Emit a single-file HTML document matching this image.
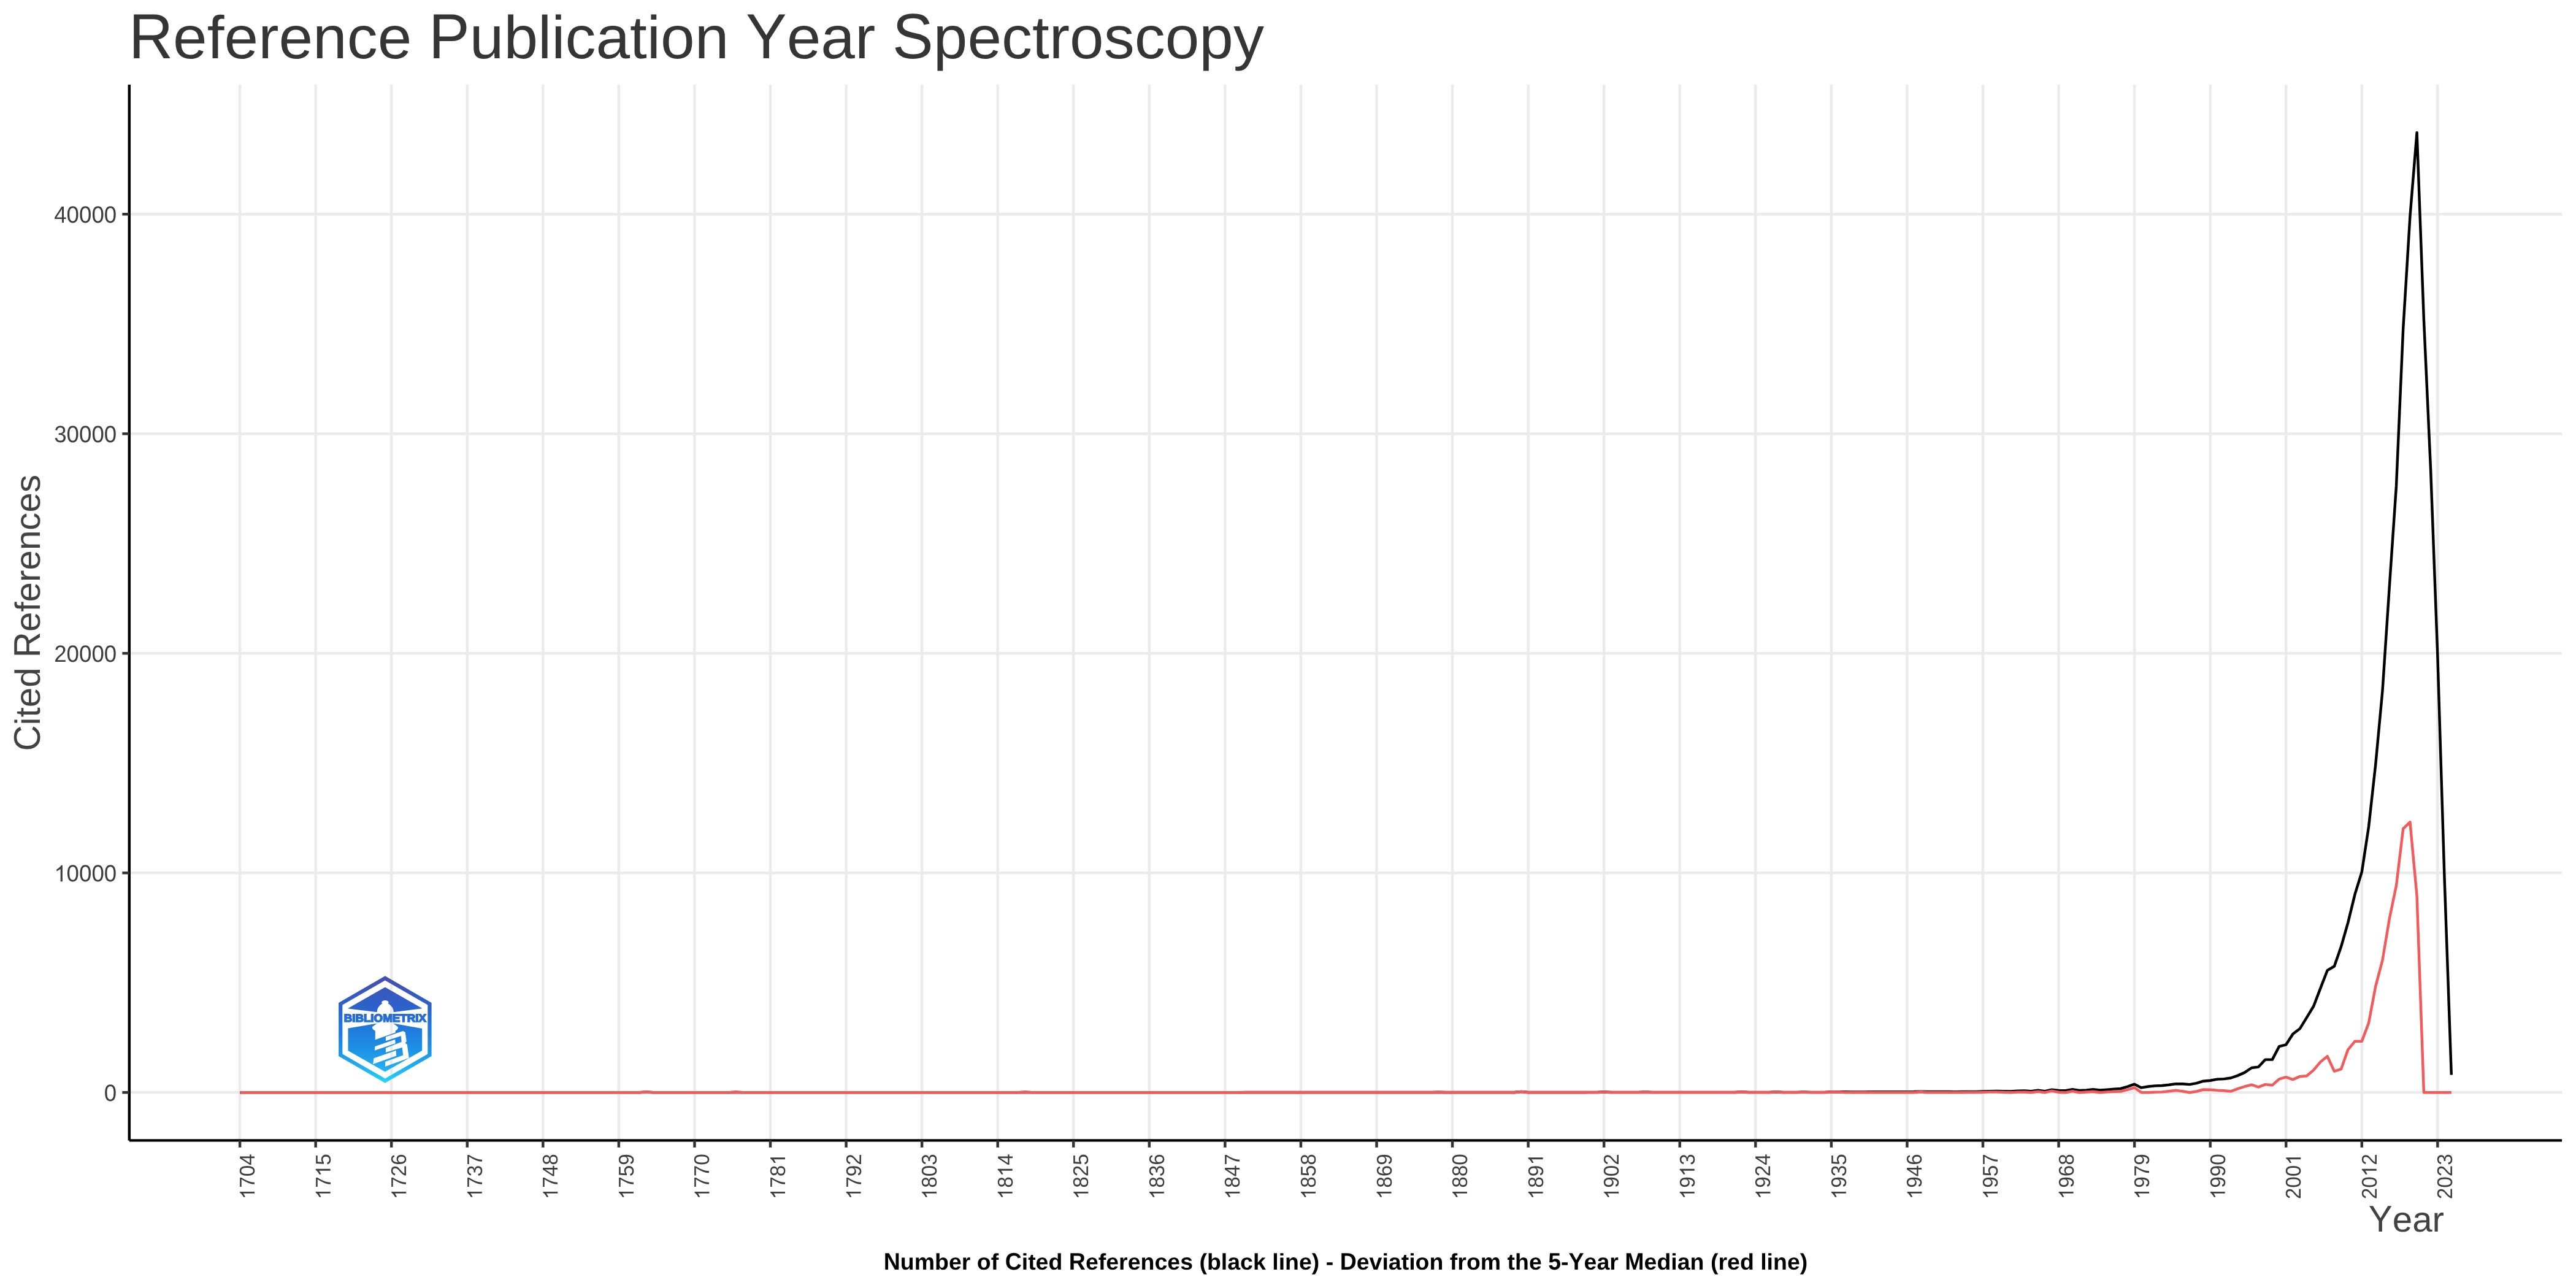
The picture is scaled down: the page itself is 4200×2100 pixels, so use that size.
<!DOCTYPE html>
<html lang="en"><head><meta charset="utf-8"><title>Reference Publication Year Spectroscopy</title>
<style>html,body{margin:0;padding:0;background:#fff;}body{width:4200px;height:2100px;overflow:hidden;}svg{display:block;will-change:transform;}text{font-family:"Liberation Sans",sans-serif;font-kerning:none;font-variant-ligatures:none;text-rendering:geometricPrecision;}</style></head><body>
<svg width="4200" height="2100" viewBox="0 0 4200 2100">
<rect x="0" y="0" width="4200" height="2100" fill="#ffffff"/>
<g stroke="#ebebeb" stroke-width="4.44" fill="none">
<line x1="210.8" y1="1781.15" x2="4177.1" y2="1781.15"/>
<line x1="210.8" y1="1423.17" x2="4177.1" y2="1423.17"/>
<line x1="210.8" y1="1065.19" x2="4177.1" y2="1065.19"/>
<line x1="210.8" y1="707.21" x2="4177.1" y2="707.21"/>
<line x1="210.8" y1="349.23" x2="4177.1" y2="349.23"/>
<line x1="391.09" y1="138.0" x2="391.09" y2="1859.4"/>
<line x1="514.65" y1="138.0" x2="514.65" y2="1859.4"/>
<line x1="638.21" y1="138.0" x2="638.21" y2="1859.4"/>
<line x1="761.77" y1="138.0" x2="761.77" y2="1859.4"/>
<line x1="885.33" y1="138.0" x2="885.33" y2="1859.4"/>
<line x1="1008.89" y1="138.0" x2="1008.89" y2="1859.4"/>
<line x1="1132.45" y1="138.0" x2="1132.45" y2="1859.4"/>
<line x1="1256.01" y1="138.0" x2="1256.01" y2="1859.4"/>
<line x1="1379.57" y1="138.0" x2="1379.57" y2="1859.4"/>
<line x1="1503.13" y1="138.0" x2="1503.13" y2="1859.4"/>
<line x1="1626.69" y1="138.0" x2="1626.69" y2="1859.4"/>
<line x1="1750.25" y1="138.0" x2="1750.25" y2="1859.4"/>
<line x1="1873.82" y1="138.0" x2="1873.82" y2="1859.4"/>
<line x1="1997.38" y1="138.0" x2="1997.38" y2="1859.4"/>
<line x1="2120.94" y1="138.0" x2="2120.94" y2="1859.4"/>
<line x1="2244.50" y1="138.0" x2="2244.50" y2="1859.4"/>
<line x1="2368.06" y1="138.0" x2="2368.06" y2="1859.4"/>
<line x1="2491.62" y1="138.0" x2="2491.62" y2="1859.4"/>
<line x1="2615.18" y1="138.0" x2="2615.18" y2="1859.4"/>
<line x1="2738.74" y1="138.0" x2="2738.74" y2="1859.4"/>
<line x1="2862.30" y1="138.0" x2="2862.30" y2="1859.4"/>
<line x1="2985.86" y1="138.0" x2="2985.86" y2="1859.4"/>
<line x1="3109.42" y1="138.0" x2="3109.42" y2="1859.4"/>
<line x1="3232.98" y1="138.0" x2="3232.98" y2="1859.4"/>
<line x1="3356.54" y1="138.0" x2="3356.54" y2="1859.4"/>
<line x1="3480.11" y1="138.0" x2="3480.11" y2="1859.4"/>
<line x1="3603.67" y1="138.0" x2="3603.67" y2="1859.4"/>
<line x1="3727.23" y1="138.0" x2="3727.23" y2="1859.4"/>
<line x1="3850.79" y1="138.0" x2="3850.79" y2="1859.4"/>
<line x1="3974.35" y1="138.0" x2="3974.35" y2="1859.4"/>
</g>
<polyline points="391.1,1781.1 402.3,1781.1 413.6,1781.1 424.8,1781.1 436.0,1781.1 447.3,1781.1 458.5,1781.1 469.7,1781.1 480.9,1781.1 492.2,1781.1 503.4,1781.1 514.6,1781.1 525.9,1781.1 537.1,1781.1 548.3,1781.1 559.6,1781.1 570.8,1781.1 582.0,1781.1 593.3,1781.1 604.5,1781.1 615.7,1781.1 627.0,1781.1 638.2,1781.1 649.4,1781.1 660.7,1781.1 671.9,1781.1 683.1,1781.1 694.4,1781.1 705.6,1781.1 716.8,1781.1 728.1,1781.1 739.3,1781.1 750.5,1781.1 761.8,1781.1 773.0,1781.1 784.2,1781.1 795.5,1781.1 806.7,1781.1 817.9,1781.1 829.2,1781.1 840.4,1781.1 851.6,1781.1 862.9,1781.1 874.1,1781.1 885.3,1781.1 896.6,1781.1 907.8,1781.1 919.0,1781.1 930.3,1781.1 941.5,1781.1 952.7,1781.1 964.0,1781.1 975.2,1781.1 986.4,1781.1 997.7,1781.1 1008.9,1781.1 1020.1,1781.1 1031.4,1781.1 1042.6,1781.1 1053.8,1780.5 1065.1,1781.1 1076.3,1781.1 1087.5,1781.1 1098.8,1781.1 1110.0,1781.1 1121.2,1781.1 1132.5,1781.1 1143.7,1781.1 1154.9,1781.1 1166.1,1781.1 1177.4,1781.1 1188.6,1781.1 1199.8,1780.8 1211.1,1781.1 1222.3,1781.1 1233.5,1781.1 1244.8,1781.1 1256.0,1781.1 1267.2,1781.1 1278.5,1781.1 1289.7,1781.1 1300.9,1781.1 1312.2,1781.1 1323.4,1781.1 1334.6,1781.1 1345.9,1781.1 1357.1,1781.1 1368.3,1781.1 1379.6,1781.1 1390.8,1781.1 1402.0,1781.1 1413.3,1781.1 1424.5,1781.1 1435.7,1781.1 1447.0,1781.1 1458.2,1781.1 1469.4,1781.1 1480.7,1781.1 1491.9,1781.1 1503.1,1781.1 1514.4,1781.1 1525.6,1781.1 1536.8,1781.1 1548.1,1781.1 1559.3,1781.1 1570.5,1781.1 1581.8,1781.1 1593.0,1781.1 1604.2,1781.1 1615.5,1781.1 1626.7,1781.1 1637.9,1781.1 1649.2,1781.1 1660.4,1781.1 1671.6,1780.7 1682.9,1781.1 1694.1,1781.1 1705.3,1781.1 1716.6,1781.1 1727.8,1781.1 1739.0,1781.1 1750.3,1781.1 1761.5,1781.1 1772.7,1781.1 1784.0,1781.1 1795.2,1781.1 1806.4,1781.1 1817.7,1781.1 1828.9,1781.1 1840.1,1781.1 1851.3,1781.1 1862.6,1781.1 1873.8,1781.1 1885.0,1781.1 1896.3,1781.1 1907.5,1781.1 1918.7,1781.1 1930.0,1781.1 1941.2,1781.1 1952.4,1781.1 1963.7,1781.1 1974.9,1781.1 1986.1,1781.1 1997.4,1781.1 2008.6,1781.1 2019.8,1781.1 2031.1,1781.0 2042.3,1781.0 2053.5,1781.0 2064.8,1781.0 2076.0,1781.0 2087.2,1781.0 2098.5,1781.0 2109.7,1781.0 2120.9,1781.0 2132.2,1781.0 2143.4,1781.0 2154.6,1781.0 2165.9,1781.0 2177.1,1781.0 2188.3,1781.0 2199.6,1781.0 2210.8,1781.0 2222.0,1781.0 2233.3,1781.0 2244.5,1781.0 2255.7,1781.0 2267.0,1781.0 2278.2,1781.0 2289.4,1781.0 2300.7,1781.0 2311.9,1781.0 2323.1,1781.0 2334.4,1781.0 2345.6,1780.7 2356.8,1781.0 2368.1,1781.0 2379.3,1781.0 2390.5,1781.0 2401.8,1781.0 2413.0,1781.0 2424.2,1781.0 2435.5,1781.0 2446.7,1781.0 2457.9,1781.0 2469.2,1781.0 2480.4,1779.9 2491.6,1781.0 2502.9,1781.0 2514.1,1781.0 2525.3,1781.0 2536.6,1781.0 2547.8,1781.0 2559.0,1781.0 2570.2,1781.0 2581.5,1781.0 2592.7,1780.9 2603.9,1780.9 2615.2,1780.3 2626.4,1780.9 2637.6,1780.9 2648.9,1780.9 2660.1,1780.9 2671.3,1780.9 2682.6,1780.5 2693.8,1780.9 2705.0,1780.9 2716.3,1780.9 2727.5,1780.9 2738.7,1780.9 2750.0,1780.9 2761.2,1780.9 2772.4,1780.9 2783.7,1780.9 2794.9,1780.9 2806.1,1780.9 2817.4,1780.9 2828.6,1780.9 2839.8,1780.3 2851.1,1780.9 2862.3,1780.9 2873.5,1780.9 2884.8,1780.9 2896.0,1780.2 2907.2,1780.9 2918.5,1780.9 2929.7,1780.9 2940.9,1780.4 2952.2,1780.9 2963.4,1780.9 2974.6,1780.9 2985.9,1780.2 2997.1,1780.2 3008.3,1780.3 3019.6,1780.5 3030.8,1780.5 3042.0,1780.4 3053.3,1780.3 3064.5,1780.3 3075.7,1780.2 3087.0,1780.2 3098.2,1780.1 3109.4,1780.1 3120.7,1780.0 3131.9,1779.6 3143.1,1779.9 3154.4,1779.9 3165.6,1780.0 3176.8,1780.0 3188.1,1780.1 3199.3,1780.0 3210.5,1780.0 3221.8,1780.0 3233.0,1779.5 3244.2,1779.1 3255.4,1778.9 3266.7,1779.1 3277.9,1779.4 3289.1,1778.8 3300.4,1778.5 3311.6,1779.1 3322.8,1777.7 3334.1,1779.1 3345.3,1776.6 3356.5,1778.0 3367.8,1778.3 3379.0,1776.2 3390.2,1778.0 3401.5,1777.4 3412.7,1776.2 3423.9,1777.4 3435.2,1776.6 3446.4,1775.6 3457.6,1775.0 3468.9,1771.6 3480.1,1767.7 3491.3,1773.4 3502.6,1771.5 3513.8,1770.4 3525.0,1770.0 3536.3,1768.8 3547.5,1767.1 3558.7,1767.2 3570.0,1768.1 3581.2,1766.1 3592.4,1762.7 3603.7,1761.8 3614.9,1759.6 3626.1,1759.1 3637.4,1757.5 3648.6,1753.6 3659.8,1748.6 3671.1,1741.0 3682.3,1739.6 3693.5,1727.6 3704.8,1727.6 3716.0,1706.2 3727.2,1703.3 3738.5,1685.8 3749.7,1677.3 3760.9,1659.1 3772.2,1640.5 3783.4,1611.1 3794.6,1582.2 3805.9,1575.5 3817.1,1543.3 3828.3,1504.1 3839.6,1457.9 3850.8,1421.7 3862.0,1348.0 3873.3,1246.0 3884.5,1126.1 3895.7,957.8 3907.0,792.4 3918.2,535.9 3929.4,352.8 3940.6,216.2 3951.9,521.1 3963.1,766.3 3974.3,1067.7 3985.6,1433.9 3996.8,1752.5" fill="none" stroke="#000000" stroke-width="4.44" stroke-linejoin="round" stroke-linecap="butt"/>
<polyline points="391.1,1781.2 402.3,1781.2 413.6,1781.2 424.8,1781.2 436.0,1781.2 447.3,1781.2 458.5,1781.2 469.7,1781.2 480.9,1781.2 492.2,1781.2 503.4,1781.2 514.6,1781.2 525.9,1781.2 537.1,1781.2 548.3,1781.2 559.6,1781.2 570.8,1781.2 582.0,1781.2 593.3,1781.2 604.5,1781.2 615.7,1781.2 627.0,1781.2 638.2,1781.2 649.4,1781.2 660.7,1781.2 671.9,1781.2 683.1,1781.2 694.4,1781.2 705.6,1781.2 716.8,1781.2 728.1,1781.2 739.3,1781.2 750.5,1781.2 761.8,1781.2 773.0,1781.2 784.2,1781.2 795.5,1781.2 806.7,1781.2 817.9,1781.2 829.2,1781.2 840.4,1781.2 851.6,1781.2 862.9,1781.2 874.1,1781.2 885.3,1781.2 896.6,1781.2 907.8,1781.2 919.0,1781.2 930.3,1781.2 941.5,1781.2 952.7,1781.2 964.0,1781.2 975.2,1781.2 986.4,1781.2 997.7,1781.2 1008.9,1781.2 1020.1,1781.2 1031.4,1781.2 1042.6,1781.2 1053.8,1780.5 1065.1,1781.2 1076.3,1781.2 1087.5,1781.2 1098.8,1781.2 1110.0,1781.2 1121.2,1781.2 1132.5,1781.2 1143.7,1781.2 1154.9,1781.2 1166.1,1781.2 1177.4,1781.2 1188.6,1781.2 1199.8,1780.8 1211.1,1781.2 1222.3,1781.2 1233.5,1781.2 1244.8,1781.2 1256.0,1781.2 1267.2,1781.2 1278.5,1781.2 1289.7,1781.2 1300.9,1781.2 1312.2,1781.2 1323.4,1781.2 1334.6,1781.2 1345.9,1781.2 1357.1,1781.2 1368.3,1781.2 1379.6,1781.2 1390.8,1781.2 1402.0,1781.2 1413.3,1781.2 1424.5,1781.2 1435.7,1781.2 1447.0,1781.2 1458.2,1781.2 1469.4,1781.2 1480.7,1781.2 1491.9,1781.2 1503.1,1781.2 1514.4,1781.2 1525.6,1781.2 1536.8,1781.2 1548.1,1781.2 1559.3,1781.2 1570.5,1781.2 1581.8,1781.2 1593.0,1781.2 1604.2,1781.2 1615.5,1781.2 1626.7,1781.2 1637.9,1781.2 1649.2,1781.2 1660.4,1781.2 1671.6,1780.8 1682.9,1781.2 1694.1,1781.2 1705.3,1781.2 1716.6,1781.2 1727.8,1781.2 1739.0,1781.2 1750.3,1781.2 1761.5,1781.2 1772.7,1781.2 1784.0,1781.2 1795.2,1781.2 1806.4,1781.2 1817.7,1781.2 1828.9,1781.2 1840.1,1781.2 1851.3,1781.2 1862.6,1781.2 1873.8,1781.2 1885.0,1781.2 1896.3,1781.2 1907.5,1781.2 1918.7,1781.2 1930.0,1781.2 1941.2,1781.2 1952.4,1781.2 1963.7,1781.2 1974.9,1781.2 1986.1,1781.2 1997.4,1781.2 2008.6,1781.2 2019.8,1781.2 2031.1,1781.2 2042.3,1781.2 2053.5,1781.2 2064.8,1781.2 2076.0,1781.2 2087.2,1781.2 2098.5,1781.2 2109.7,1781.2 2120.9,1781.2 2132.2,1781.2 2143.4,1781.2 2154.6,1781.2 2165.9,1781.2 2177.1,1781.2 2188.3,1781.2 2199.6,1781.2 2210.8,1781.2 2222.0,1781.2 2233.3,1781.2 2244.5,1781.2 2255.7,1781.2 2267.0,1781.2 2278.2,1781.2 2289.4,1781.2 2300.7,1781.2 2311.9,1781.2 2323.1,1781.2 2334.4,1781.2 2345.6,1780.7 2356.8,1781.2 2368.1,1781.2 2379.3,1781.2 2390.5,1781.2 2401.8,1781.2 2413.0,1781.2 2424.2,1781.2 2435.5,1781.2 2446.7,1781.2 2457.9,1781.2 2469.2,1781.2 2480.4,1780.0 2491.6,1781.2 2502.9,1781.2 2514.1,1781.2 2525.3,1781.2 2536.6,1781.2 2547.8,1781.2 2559.0,1781.2 2570.2,1781.2 2581.5,1781.2 2592.7,1781.2 2603.9,1781.2 2615.2,1780.4 2626.4,1781.2 2637.6,1781.2 2648.9,1781.2 2660.1,1781.2 2671.3,1781.2 2682.6,1780.7 2693.8,1781.2 2705.0,1781.2 2716.3,1781.2 2727.5,1781.2 2738.7,1781.2 2750.0,1781.2 2761.2,1781.2 2772.4,1781.2 2783.7,1781.2 2794.9,1781.2 2806.1,1781.2 2817.4,1781.2 2828.6,1781.2 2839.8,1780.5 2851.1,1781.2 2862.3,1781.2 2873.5,1781.2 2884.8,1781.2 2896.0,1780.4 2907.2,1781.2 2918.5,1781.2 2929.7,1781.2 2940.9,1780.6 2952.2,1781.2 2963.4,1781.2 2974.6,1781.2 2985.9,1780.5 2997.1,1780.4 3008.3,1781.2 3019.6,1781.2 3030.8,1781.2 3042.0,1781.2 3053.3,1781.2 3064.5,1781.2 3075.7,1781.2 3087.0,1781.2 3098.2,1781.2 3109.4,1781.2 3120.7,1781.2 3131.9,1780.2 3143.1,1781.2 3154.4,1781.2 3165.6,1781.2 3176.8,1781.2 3188.1,1781.2 3199.3,1781.2 3210.5,1781.0 3221.8,1781.0 3233.0,1780.8 3244.2,1780.4 3255.4,1780.4 3266.7,1780.8 3277.9,1781.2 3289.1,1780.6 3300.4,1780.4 3311.6,1781.2 3322.8,1779.6 3334.1,1781.2 3345.3,1778.6 3356.5,1780.8 3367.8,1781.2 3379.0,1779.1 3390.2,1781.2 3401.5,1780.5 3412.7,1779.7 3423.9,1781.2 3435.2,1780.4 3446.4,1779.7 3457.6,1779.5 3468.9,1776.7 3480.1,1773.5 3491.3,1781.2 3502.6,1781.2 3513.8,1780.6 3525.0,1780.4 3536.3,1779.2 3547.5,1777.8 3558.7,1779.2 3570.0,1781.2 3581.2,1779.5 3592.4,1776.5 3603.7,1776.7 3614.9,1777.6 3626.1,1778.2 3637.4,1779.4 3648.6,1775.2 3659.8,1771.5 3671.1,1768.6 3682.3,1772.4 3693.5,1768.1 3704.8,1769.3 3716.0,1759.3 3727.2,1756.2 3738.5,1760.1 3749.7,1755.1 3760.9,1754.2 3772.2,1744.6 3783.4,1731.4 3794.6,1722.2 3805.9,1746.6 3817.1,1743.1 3828.3,1711.3 3839.6,1697.7 3850.8,1697.7 3862.0,1667.9 3873.3,1607.9 3884.5,1565.5 3895.7,1498.4 3907.0,1443.9 3918.2,1351.2 3929.4,1340.3 3940.6,1460.8 3951.9,1781.2 3963.1,1781.2 3974.3,1781.2 3985.6,1781.2 3996.8,1781.2" fill="none" stroke="#f15b5b" stroke-width="4.44" stroke-linejoin="round" stroke-linecap="butt"/>
<defs>
<linearGradient id="lg" gradientUnits="userSpaceOnUse" x1="0" y1="1591" x2="0" y2="1766"><stop offset="0" stop-color="#4a4bae"/><stop offset="0.12" stop-color="#3a57ba"/><stop offset="0.30" stop-color="#2b63cb"/><stop offset="0.50" stop-color="#1f7bdc"/><stop offset="0.70" stop-color="#1e93e6"/><stop offset="0.88" stop-color="#21b4f2"/><stop offset="1" stop-color="#22d8fe"/></linearGradient>
<mask id="lm" maskUnits="userSpaceOnUse" x="540" y="1580" width="180" height="200">
<rect x="540" y="1580" width="180" height="200" fill="#000"/>
<polygon points="627.85,1591.30 703.59,1634.90 703.59,1722.10 627.85,1765.70 552.11,1722.10 552.11,1634.90" fill="#fff"/>
<polygon points="627.85,1598.50 697.34,1638.50 697.34,1718.50 627.85,1758.50 558.36,1718.50 558.36,1638.50" fill="#000"/>
<polygon points="627.85,1609.50 688.20,1644.00 688.20,1713.00 627.85,1747.50 567.50,1713.00 567.50,1644.00" fill="#fff"/>
<polygon points="562.0,1643.7 614.8,1650.3 641.6,1650.3 694.0,1643.4 694.0,1677.9 640.6,1668.4 615.3,1668.4 562.0,1677.6" fill="#000"/>
<ellipse cx="627.9" cy="1634.2" rx="5.6" ry="3.1" fill="#000"/>
<path d="M623.0,1636.2 Q614.6,1641.5 614.6,1651 L641.8,1651 Q641.8,1641.5 633.0,1636.2 Z" fill="#000"/>
<path d="M615.3,1668.0 L606.7,1674.5 Q607.0,1678.4 611.8,1680.8 L644.6,1680.8 Q649.3,1678.4 649.1,1674.8 L640.6,1668.0 Z" fill="#000"/>
<polygon points="611.8,1677.5 644.6,1677.5 644.6,1683.6 611.8,1695.2" fill="#000"/>
<polygon points="628.9,1690.6 657.2,1681.1 660.7,1683.1 662.8,1697.7 660.7,1700.7 663.8,1702.8 666.8,1725.0 627.9,1739.1 628.2,1731.0 657.2,1720.4 655.7,1707.8 628.9,1715.9 628.9,1708.8 654.7,1698.7 653.7,1689.1 628.9,1697.2" fill="#000"/>
<polygon points="611.3,1706.3 644.1,1694.7 644.6,1701.2 610.8,1712.8" fill="#000"/>
<polygon points="609.3,1725.5 645.6,1712.8 646.1,1721.4 608.3,1735.0" fill="#000"/>
<text x="627.8" y="1666.2" font-size="17.8" font-weight="bold" text-anchor="middle" textLength="134.3" lengthAdjust="spacingAndGlyphs" fill="#fff" stroke="#fff" stroke-width="1.5" stroke-linejoin="miter">BIBLIOMETRIX</text>
</mask>
</defs>
<rect x="540" y="1580" width="180" height="200" fill="url(#lg)" mask="url(#lm)"/>
<g stroke="#000000" stroke-width="4.44" fill="none">
<line x1="210.8" y1="138.0" x2="210.8" y2="1859.4"/>
<line x1="210.8" y1="1859.4" x2="4177.1" y2="1859.4"/>
</g>
<g stroke="#333333" stroke-width="4.44" fill="none">
<line x1="199.34" y1="1781.15" x2="210.80" y2="1781.15"/>
<line x1="199.34" y1="1423.17" x2="210.80" y2="1423.17"/>
<line x1="199.34" y1="1065.19" x2="210.80" y2="1065.19"/>
<line x1="199.34" y1="707.21" x2="210.80" y2="707.21"/>
<line x1="199.34" y1="349.23" x2="210.80" y2="349.23"/>
<line x1="391.09" y1="1859.40" x2="391.09" y2="1870.86"/>
<line x1="514.65" y1="1859.40" x2="514.65" y2="1870.86"/>
<line x1="638.21" y1="1859.40" x2="638.21" y2="1870.86"/>
<line x1="761.77" y1="1859.40" x2="761.77" y2="1870.86"/>
<line x1="885.33" y1="1859.40" x2="885.33" y2="1870.86"/>
<line x1="1008.89" y1="1859.40" x2="1008.89" y2="1870.86"/>
<line x1="1132.45" y1="1859.40" x2="1132.45" y2="1870.86"/>
<line x1="1256.01" y1="1859.40" x2="1256.01" y2="1870.86"/>
<line x1="1379.57" y1="1859.40" x2="1379.57" y2="1870.86"/>
<line x1="1503.13" y1="1859.40" x2="1503.13" y2="1870.86"/>
<line x1="1626.69" y1="1859.40" x2="1626.69" y2="1870.86"/>
<line x1="1750.25" y1="1859.40" x2="1750.25" y2="1870.86"/>
<line x1="1873.82" y1="1859.40" x2="1873.82" y2="1870.86"/>
<line x1="1997.38" y1="1859.40" x2="1997.38" y2="1870.86"/>
<line x1="2120.94" y1="1859.40" x2="2120.94" y2="1870.86"/>
<line x1="2244.50" y1="1859.40" x2="2244.50" y2="1870.86"/>
<line x1="2368.06" y1="1859.40" x2="2368.06" y2="1870.86"/>
<line x1="2491.62" y1="1859.40" x2="2491.62" y2="1870.86"/>
<line x1="2615.18" y1="1859.40" x2="2615.18" y2="1870.86"/>
<line x1="2738.74" y1="1859.40" x2="2738.74" y2="1870.86"/>
<line x1="2862.30" y1="1859.40" x2="2862.30" y2="1870.86"/>
<line x1="2985.86" y1="1859.40" x2="2985.86" y2="1870.86"/>
<line x1="3109.42" y1="1859.40" x2="3109.42" y2="1870.86"/>
<line x1="3232.98" y1="1859.40" x2="3232.98" y2="1870.86"/>
<line x1="3356.54" y1="1859.40" x2="3356.54" y2="1870.86"/>
<line x1="3480.11" y1="1859.40" x2="3480.11" y2="1870.86"/>
<line x1="3603.67" y1="1859.40" x2="3603.67" y2="1870.86"/>
<line x1="3727.23" y1="1859.40" x2="3727.23" y2="1870.86"/>
<line x1="3850.79" y1="1859.40" x2="3850.79" y2="1870.86"/>
<line x1="3974.35" y1="1859.40" x2="3974.35" y2="1870.86"/>
</g>
<g transform="translate(190.20,1795.15)" font-size="36.67" fill="#3d3d3d"><text xml:space="preserve" transform="translate(-20.39,0) scale(1,1.041)">0</text></g>
<g transform="translate(190.20,1437.17)" font-size="36.67" fill="#3d3d3d"><path transform="translate(-101.97,0) scale(0.01791,-0.01791)" d="M763,0H583V1147Q518,1085 412.5,1023T223,930V1104Q373,1174.5 485,1275T644,1470H763Z"/><text xml:space="preserve" transform="translate(-81.58,0) scale(1,1.041)">0000</text></g>
<g transform="translate(190.20,1079.19)" font-size="36.67" fill="#3d3d3d"><text xml:space="preserve" transform="translate(-101.97,0) scale(1,1.041)">20000</text></g>
<g transform="translate(190.20,721.21)" font-size="36.67" fill="#3d3d3d"><text xml:space="preserve" transform="translate(-101.97,0) scale(1,1.041)">30000</text></g>
<g transform="translate(190.20,363.23)" font-size="36.67" fill="#3d3d3d"><text xml:space="preserve" transform="translate(-101.97,0) scale(1,1.041)">40000</text></g>
<g transform="translate(415.09,1881.20) rotate(-90)" font-size="33.33" fill="#3d3d3d"><path transform="translate(-74.15,0) scale(0.01627,-0.01627)" d="M763,0H583V1147Q518,1085 412.5,1023T223,930V1104Q373,1174.5 485,1275T644,1470H763Z"/><text xml:space="preserve" transform="translate(-55.61,0) scale(1,1.041)">704</text></g>
<g transform="translate(538.65,1881.20) rotate(-90)" font-size="33.33" fill="#3d3d3d"><path transform="translate(-74.15,0) scale(0.01627,-0.01627)" d="M763,0H583V1147Q518,1085 412.5,1023T223,930V1104Q373,1174.5 485,1275T644,1470H763Z"/><text xml:space="preserve" transform="translate(-55.61,0) scale(1,1.041)">7</text><path transform="translate(-37.07,0) scale(0.01627,-0.01627)" d="M763,0H583V1147Q518,1085 412.5,1023T223,930V1104Q373,1174.5 485,1275T644,1470H763Z"/><text xml:space="preserve" transform="translate(-18.54,0) scale(1,1.041)">5</text></g>
<g transform="translate(662.21,1881.20) rotate(-90)" font-size="33.33" fill="#3d3d3d"><path transform="translate(-74.15,0) scale(0.01627,-0.01627)" d="M763,0H583V1147Q518,1085 412.5,1023T223,930V1104Q373,1174.5 485,1275T644,1470H763Z"/><text xml:space="preserve" transform="translate(-55.61,0) scale(1,1.041)">726</text></g>
<g transform="translate(785.77,1881.20) rotate(-90)" font-size="33.33" fill="#3d3d3d"><path transform="translate(-74.15,0) scale(0.01627,-0.01627)" d="M763,0H583V1147Q518,1085 412.5,1023T223,930V1104Q373,1174.5 485,1275T644,1470H763Z"/><text xml:space="preserve" transform="translate(-55.61,0) scale(1,1.041)">737</text></g>
<g transform="translate(909.33,1881.20) rotate(-90)" font-size="33.33" fill="#3d3d3d"><path transform="translate(-74.15,0) scale(0.01627,-0.01627)" d="M763,0H583V1147Q518,1085 412.5,1023T223,930V1104Q373,1174.5 485,1275T644,1470H763Z"/><text xml:space="preserve" transform="translate(-55.61,0) scale(1,1.041)">748</text></g>
<g transform="translate(1032.89,1881.20) rotate(-90)" font-size="33.33" fill="#3d3d3d"><path transform="translate(-74.15,0) scale(0.01627,-0.01627)" d="M763,0H583V1147Q518,1085 412.5,1023T223,930V1104Q373,1174.5 485,1275T644,1470H763Z"/><text xml:space="preserve" transform="translate(-55.61,0) scale(1,1.041)">759</text></g>
<g transform="translate(1156.45,1881.20) rotate(-90)" font-size="33.33" fill="#3d3d3d"><path transform="translate(-74.15,0) scale(0.01627,-0.01627)" d="M763,0H583V1147Q518,1085 412.5,1023T223,930V1104Q373,1174.5 485,1275T644,1470H763Z"/><text xml:space="preserve" transform="translate(-55.61,0) scale(1,1.041)">770</text></g>
<g transform="translate(1280.01,1881.20) rotate(-90)" font-size="33.33" fill="#3d3d3d"><path transform="translate(-74.15,0) scale(0.01627,-0.01627)" d="M763,0H583V1147Q518,1085 412.5,1023T223,930V1104Q373,1174.5 485,1275T644,1470H763Z"/><text xml:space="preserve" transform="translate(-55.61,0) scale(1,1.041)">78</text><path transform="translate(-18.54,0) scale(0.01627,-0.01627)" d="M763,0H583V1147Q518,1085 412.5,1023T223,930V1104Q373,1174.5 485,1275T644,1470H763Z"/></g>
<g transform="translate(1403.57,1881.20) rotate(-90)" font-size="33.33" fill="#3d3d3d"><path transform="translate(-74.15,0) scale(0.01627,-0.01627)" d="M763,0H583V1147Q518,1085 412.5,1023T223,930V1104Q373,1174.5 485,1275T644,1470H763Z"/><text xml:space="preserve" transform="translate(-55.61,0) scale(1,1.041)">792</text></g>
<g transform="translate(1527.13,1881.20) rotate(-90)" font-size="33.33" fill="#3d3d3d"><path transform="translate(-74.15,0) scale(0.01627,-0.01627)" d="M763,0H583V1147Q518,1085 412.5,1023T223,930V1104Q373,1174.5 485,1275T644,1470H763Z"/><text xml:space="preserve" transform="translate(-55.61,0) scale(1,1.041)">803</text></g>
<g transform="translate(1650.69,1881.20) rotate(-90)" font-size="33.33" fill="#3d3d3d"><path transform="translate(-74.15,0) scale(0.01627,-0.01627)" d="M763,0H583V1147Q518,1085 412.5,1023T223,930V1104Q373,1174.5 485,1275T644,1470H763Z"/><text xml:space="preserve" transform="translate(-55.61,0) scale(1,1.041)">8</text><path transform="translate(-37.07,0) scale(0.01627,-0.01627)" d="M763,0H583V1147Q518,1085 412.5,1023T223,930V1104Q373,1174.5 485,1275T644,1470H763Z"/><text xml:space="preserve" transform="translate(-18.54,0) scale(1,1.041)">4</text></g>
<g transform="translate(1774.25,1881.20) rotate(-90)" font-size="33.33" fill="#3d3d3d"><path transform="translate(-74.15,0) scale(0.01627,-0.01627)" d="M763,0H583V1147Q518,1085 412.5,1023T223,930V1104Q373,1174.5 485,1275T644,1470H763Z"/><text xml:space="preserve" transform="translate(-55.61,0) scale(1,1.041)">825</text></g>
<g transform="translate(1897.82,1881.20) rotate(-90)" font-size="33.33" fill="#3d3d3d"><path transform="translate(-74.15,0) scale(0.01627,-0.01627)" d="M763,0H583V1147Q518,1085 412.5,1023T223,930V1104Q373,1174.5 485,1275T644,1470H763Z"/><text xml:space="preserve" transform="translate(-55.61,0) scale(1,1.041)">836</text></g>
<g transform="translate(2021.38,1881.20) rotate(-90)" font-size="33.33" fill="#3d3d3d"><path transform="translate(-74.15,0) scale(0.01627,-0.01627)" d="M763,0H583V1147Q518,1085 412.5,1023T223,930V1104Q373,1174.5 485,1275T644,1470H763Z"/><text xml:space="preserve" transform="translate(-55.61,0) scale(1,1.041)">847</text></g>
<g transform="translate(2144.94,1881.20) rotate(-90)" font-size="33.33" fill="#3d3d3d"><path transform="translate(-74.15,0) scale(0.01627,-0.01627)" d="M763,0H583V1147Q518,1085 412.5,1023T223,930V1104Q373,1174.5 485,1275T644,1470H763Z"/><text xml:space="preserve" transform="translate(-55.61,0) scale(1,1.041)">858</text></g>
<g transform="translate(2268.50,1881.20) rotate(-90)" font-size="33.33" fill="#3d3d3d"><path transform="translate(-74.15,0) scale(0.01627,-0.01627)" d="M763,0H583V1147Q518,1085 412.5,1023T223,930V1104Q373,1174.5 485,1275T644,1470H763Z"/><text xml:space="preserve" transform="translate(-55.61,0) scale(1,1.041)">869</text></g>
<g transform="translate(2392.06,1881.20) rotate(-90)" font-size="33.33" fill="#3d3d3d"><path transform="translate(-74.15,0) scale(0.01627,-0.01627)" d="M763,0H583V1147Q518,1085 412.5,1023T223,930V1104Q373,1174.5 485,1275T644,1470H763Z"/><text xml:space="preserve" transform="translate(-55.61,0) scale(1,1.041)">880</text></g>
<g transform="translate(2515.62,1881.20) rotate(-90)" font-size="33.33" fill="#3d3d3d"><path transform="translate(-74.15,0) scale(0.01627,-0.01627)" d="M763,0H583V1147Q518,1085 412.5,1023T223,930V1104Q373,1174.5 485,1275T644,1470H763Z"/><text xml:space="preserve" transform="translate(-55.61,0) scale(1,1.041)">89</text><path transform="translate(-18.54,0) scale(0.01627,-0.01627)" d="M763,0H583V1147Q518,1085 412.5,1023T223,930V1104Q373,1174.5 485,1275T644,1470H763Z"/></g>
<g transform="translate(2639.18,1881.20) rotate(-90)" font-size="33.33" fill="#3d3d3d"><path transform="translate(-74.15,0) scale(0.01627,-0.01627)" d="M763,0H583V1147Q518,1085 412.5,1023T223,930V1104Q373,1174.5 485,1275T644,1470H763Z"/><text xml:space="preserve" transform="translate(-55.61,0) scale(1,1.041)">902</text></g>
<g transform="translate(2762.74,1881.20) rotate(-90)" font-size="33.33" fill="#3d3d3d"><path transform="translate(-74.15,0) scale(0.01627,-0.01627)" d="M763,0H583V1147Q518,1085 412.5,1023T223,930V1104Q373,1174.5 485,1275T644,1470H763Z"/><text xml:space="preserve" transform="translate(-55.61,0) scale(1,1.041)">9</text><path transform="translate(-37.07,0) scale(0.01627,-0.01627)" d="M763,0H583V1147Q518,1085 412.5,1023T223,930V1104Q373,1174.5 485,1275T644,1470H763Z"/><text xml:space="preserve" transform="translate(-18.54,0) scale(1,1.041)">3</text></g>
<g transform="translate(2886.30,1881.20) rotate(-90)" font-size="33.33" fill="#3d3d3d"><path transform="translate(-74.15,0) scale(0.01627,-0.01627)" d="M763,0H583V1147Q518,1085 412.5,1023T223,930V1104Q373,1174.5 485,1275T644,1470H763Z"/><text xml:space="preserve" transform="translate(-55.61,0) scale(1,1.041)">924</text></g>
<g transform="translate(3009.86,1881.20) rotate(-90)" font-size="33.33" fill="#3d3d3d"><path transform="translate(-74.15,0) scale(0.01627,-0.01627)" d="M763,0H583V1147Q518,1085 412.5,1023T223,930V1104Q373,1174.5 485,1275T644,1470H763Z"/><text xml:space="preserve" transform="translate(-55.61,0) scale(1,1.041)">935</text></g>
<g transform="translate(3133.42,1881.20) rotate(-90)" font-size="33.33" fill="#3d3d3d"><path transform="translate(-74.15,0) scale(0.01627,-0.01627)" d="M763,0H583V1147Q518,1085 412.5,1023T223,930V1104Q373,1174.5 485,1275T644,1470H763Z"/><text xml:space="preserve" transform="translate(-55.61,0) scale(1,1.041)">946</text></g>
<g transform="translate(3256.98,1881.20) rotate(-90)" font-size="33.33" fill="#3d3d3d"><path transform="translate(-74.15,0) scale(0.01627,-0.01627)" d="M763,0H583V1147Q518,1085 412.5,1023T223,930V1104Q373,1174.5 485,1275T644,1470H763Z"/><text xml:space="preserve" transform="translate(-55.61,0) scale(1,1.041)">957</text></g>
<g transform="translate(3380.54,1881.20) rotate(-90)" font-size="33.33" fill="#3d3d3d"><path transform="translate(-74.15,0) scale(0.01627,-0.01627)" d="M763,0H583V1147Q518,1085 412.5,1023T223,930V1104Q373,1174.5 485,1275T644,1470H763Z"/><text xml:space="preserve" transform="translate(-55.61,0) scale(1,1.041)">968</text></g>
<g transform="translate(3504.11,1881.20) rotate(-90)" font-size="33.33" fill="#3d3d3d"><path transform="translate(-74.15,0) scale(0.01627,-0.01627)" d="M763,0H583V1147Q518,1085 412.5,1023T223,930V1104Q373,1174.5 485,1275T644,1470H763Z"/><text xml:space="preserve" transform="translate(-55.61,0) scale(1,1.041)">979</text></g>
<g transform="translate(3627.67,1881.20) rotate(-90)" font-size="33.33" fill="#3d3d3d"><path transform="translate(-74.15,0) scale(0.01627,-0.01627)" d="M763,0H583V1147Q518,1085 412.5,1023T223,930V1104Q373,1174.5 485,1275T644,1470H763Z"/><text xml:space="preserve" transform="translate(-55.61,0) scale(1,1.041)">990</text></g>
<g transform="translate(3751.23,1881.20) rotate(-90)" font-size="33.33" fill="#3d3d3d"><text xml:space="preserve" transform="translate(-74.15,0) scale(1,1.041)">200</text><path transform="translate(-18.54,0) scale(0.01627,-0.01627)" d="M763,0H583V1147Q518,1085 412.5,1023T223,930V1104Q373,1174.5 485,1275T644,1470H763Z"/></g>
<g transform="translate(3874.79,1881.20) rotate(-90)" font-size="33.33" fill="#3d3d3d"><text xml:space="preserve" transform="translate(-74.15,0) scale(1,1.041)">20</text><path transform="translate(-37.07,0) scale(0.01627,-0.01627)" d="M763,0H583V1147Q518,1085 412.5,1023T223,930V1104Q373,1174.5 485,1275T644,1470H763Z"/><text xml:space="preserve" transform="translate(-18.54,0) scale(1,1.041)">2</text></g>
<g transform="translate(3998.35,1881.20) rotate(-90)" font-size="33.33" fill="#3d3d3d"><text xml:space="preserve" transform="translate(-74.15,0) scale(1,1.041)">2023</text></g>
<g transform="translate(209.90,95.10)" font-size="100.00" fill="#353535"><text xml:space="preserve" transform="translate(0.00,0) scale(1,1.041)">R</text><text xml:space="preserve" transform="translate(72.22,0) scale(1,0.985)">eference </text><text xml:space="preserve" transform="translate(489.16,0) scale(1,1.041)">P</text><text xml:space="preserve" transform="translate(555.86,0) scale(1,0.985)">ublication </text><text xml:space="preserve" transform="translate(1006.15,0) scale(1,1.041)">Y</text><text xml:space="preserve" transform="translate(1072.85,0) scale(1,0.985)">ear </text><text xml:space="preserve" transform="translate(1245.17,0) scale(1,1.041)">S</text><text xml:space="preserve" transform="translate(1311.87,0) scale(1,0.985)">pectroscopy</text></g>
<g transform="translate(3985.00,2007.60)" font-size="58.33" fill="#424242"><text xml:space="preserve" transform="translate(-123.21,0) scale(1,1.041)">Y</text><text xml:space="preserve" transform="translate(-84.31,0) scale(1,0.985)">ear</text></g>
<g transform="translate(64.60,999.20) rotate(-90)" font-size="58.33" fill="#424242"><text xml:space="preserve" transform="translate(-225.33,0) scale(1,1.041)">C</text><text xml:space="preserve" transform="translate(-183.21,0) scale(1,0.985)">ited </text><text xml:space="preserve" transform="translate(-72.96,0) scale(1,1.041)">R</text><text xml:space="preserve" transform="translate(-30.83,0) scale(1,0.985)">eferences</text></g>
<g transform="translate(2194.00,2070.00)" font-size="37.50" fill="#000000" font-weight="bold"><text xml:space="preserve" transform="translate(-753.29,0) scale(1,1.041)">N</text><text xml:space="preserve" transform="translate(-726.21,0) scale(1,0.985)">umber of </text><text xml:space="preserve" transform="translate(-555.37,0) scale(1,1.041)">C</text><text xml:space="preserve" transform="translate(-528.29,0) scale(1,0.985)">ited </text><text xml:space="preserve" transform="translate(-451.20,0) scale(1,1.041)">R</text><text xml:space="preserve" transform="translate(-424.12,0) scale(1,0.985)">eferences (black line) - </text><text xml:space="preserve" transform="translate(-9.37,0) scale(1,1.041)">D</text><text xml:space="preserve" transform="translate(17.72,0) scale(1,0.985)">eviation from the </text><text xml:space="preserve" transform="translate(330.26,0) scale(1,1.041)">5</text><text xml:space="preserve" transform="translate(351.11,0) scale(1,0.985)">-</text><text xml:space="preserve" transform="translate(363.60,0) scale(1,1.041)">Y</text><text xml:space="preserve" transform="translate(388.61,0) scale(1,0.985)">ear </text><text xml:space="preserve" transform="translate(455.34,0) scale(1,1.041)">M</text><text xml:space="preserve" transform="translate(486.58,0) scale(1,0.985)">edian (red line)</text></g>
</svg></body></html>
